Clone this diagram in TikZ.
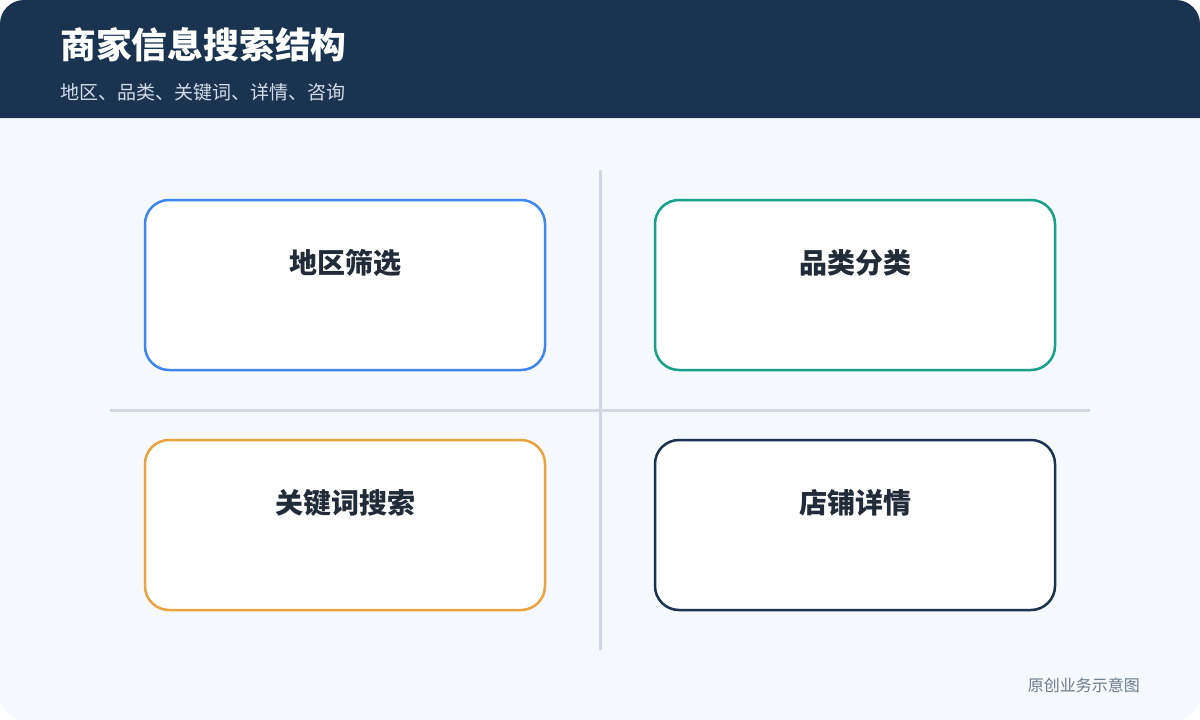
\documentclass[tikz,border=0pt]{standalone}
\usepackage{fontspec}
\setmainfont{Noto Sans CJK SC}
\usetikzlibrary{positioning}

\definecolor{headbg}{HTML}{1A3350}
\definecolor{pagebg}{HTML}{F5F8FC}
\definecolor{rulegray}{HTML}{CFD8E3}
\definecolor{labeltext}{HTML}{222B38}
\definecolor{subtext}{HTML}{D2DCE8}
\definecolor{foottext}{HTML}{6B7A8E}
\definecolor{cblue}{HTML}{3F86F0}
\definecolor{cteal}{HTML}{17A08A}
\definecolor{corange}{HTML}{E9A43E}
\definecolor{cnavy}{HTML}{1B3350}

\begin{document}
\begin{tikzpicture}[x=1pt,y=-1pt,node distance=107.5pt and 107.5pt]
  \tikzstyle{card}=[draw, line width=2.5pt, fill=white, rounded corners=24pt,
    minimum width=400pt, minimum height=170pt, inner sep=0pt]
  \tikzstyle{cardlabel}=[font=\fontsize{28}{32}\selectfont\bfseries, text=labeltext, inner sep=0pt]

  % page
  \useasboundingbox (0,0) rectangle (1200,720);
  \fill[white] (0,0) rectangle (1200,720);
  \fill[pagebg, rounded corners=24pt] (0,0) rectangle (1200,720);
  \fill[headbg] (0,118) -- (0,24) arc[start angle=180,end angle=90,radius=24pt]
    -- (1176,0) arc[start angle=90,end angle=0,radius=24pt] -- (1200,118) -- cycle;

  \node[anchor=west, text=white, font=\fontsize{35.8}{40}\selectfont\bfseries, inner sep=0pt]
    (title) at (60,45) {商家信息搜索结构};
  \node[anchor=west, text=subtext, font=\fontsize{19}{23}\selectfont, inner sep=0pt]
    (subtitle) at (60,92) {地区、品类、关键词、详情、咨询};

  % dividers
  \draw[rulegray, line width=3pt] (600,170) -- (600,650);
  \draw[rulegray, line width=3pt] (110,410) -- (1090,410);

  % cards
  \node[card, draw=cblue] (region) at (345,285) {};
  \node[card, draw=cteal, right=of region] (category) {};
  \node[card, draw=corange, below=67.5pt of region] (keyword) {};
  \node[card, draw=cnavy, right=of keyword] (shop) {};

  \node[cardlabel] at ([yshift=-64pt]region.north) {地区筛选};
  \node[cardlabel] at ([yshift=-64pt]category.north) {品类分类};
  \node[cardlabel] at ([yshift=-64pt]keyword.north) {关键词搜索};
  \node[cardlabel] at ([yshift=-64pt]shop.north) {店铺详情};

  \node[anchor=east, text=foottext, font=\fontsize{16}{19}\selectfont, inner sep=0pt]
    (footer) at (1140,685) {原创业务示意图};
\end{tikzpicture}
\end{document}
